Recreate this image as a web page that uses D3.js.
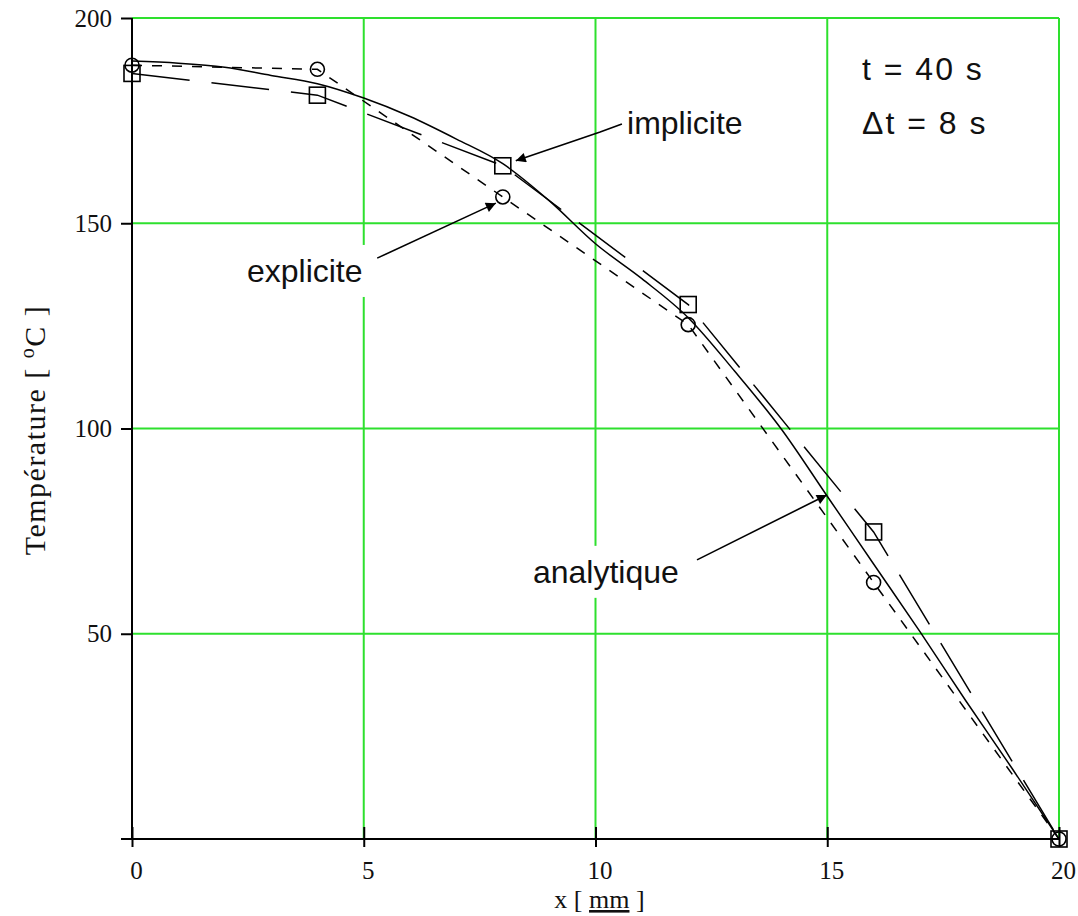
<!DOCTYPE html>
<html>
<head>
<meta charset="utf-8">
<script src="https://cdn.jsdelivr.net/npm/d3@7"></script>
<style>
  body { margin: 0; background: #fff; }
  svg { display: block; }
</style>
</head>
<body>
<div id="chart"></div>
<script>

// analytic solution (x in mm, T in degC)
const x_analytic = [0, 1, 2, 3, 4, 5, 6, 7, 8, 9, 10, 11, 12, 13, 14, 15, 16, 17, 18, 19, 20];
const t_analytic = [189.5, 189, 188, 186, 184, 180.5, 176, 170.5, 164.5, 155.5, 145, 136.5, 127, 114, 100, 83.5, 67, 50.5, 33.5, 17, 0];

// numerical nodes (dx = 4 mm)
const x_nodes = [0, 4, 8, 12, 16, 20];
const t_implicit = [186.5, 181.2, 164, 130.2, 74.8, 0];
const t_explicit = [188.5, 187.5, 156.4, 125.3, 62.5, 0];

const x_ticks = [0, 5, 10, 15, 20];
const y_ticks = [50, 100, 150, 200];

// annotations, in data units
const notes = [
  {text: "implicite",  at: [10.68, 171.7], arrow: [[10.57, 174.2], [10.1, 172.2], [8.28, 165.2]]},
  {text: "explicite",  at: [2.48, 135.7],  arrow: [[5.29, 141.5], [7.85, 154.9]]},
  {text: "analytique", at: [8.65, 62.4],   arrow: [[12.19, 68.0], [14.99, 83.8]]}
];
const info = ["t = 40 s", "\u0394t = 8 s"];

var width = 1078, height = 916;
var margin = {left: 132, top: 18, right: 19, bottom: 77};
var green = "#2ee02e";

var svg = d3.select("#chart").append("svg")
    .attr("width", width)
    .attr("height", height);

var x = d3.scaleLinear().domain([0, 20]).range([margin.left, width - margin.right]);
var y = d3.scaleLinear().domain([0, 200]).range([height - margin.bottom, margin.top]);

// green grid
svg.append("g").selectAll("line")
    .data(x_ticks.filter(d => d > 0))
    .enter().append("line")
    .attr("x1", d => x(d)).attr("x2", d => x(d))
    .attr("y1", y(0)).attr("y2", y(200))
    .attr("stroke", green).attr("stroke-width", 2);

svg.append("g").selectAll("line")
    .data(y_ticks)
    .enter().append("line")
    .attr("x1", x(0)).attr("x2", x(20))
    .attr("y1", d => y(d)).attr("y2", d => y(d))
    .attr("stroke", green).attr("stroke-width", 2);

// axes
var xAxis = svg.append("g")
    .attr("transform", "translate(0," + y(0) + ")")
    .call(d3.axisBottom(x).tickValues(x_ticks).tickSize(8).tickPadding(14));
xAxis.select(".domain").remove();
xAxis.selectAll(".tick line").attr("stroke", "#000").attr("stroke-width", 2)
    .attr("y1", -12);
xAxis.selectAll(".tick text")
    .attr("dx", 4)
    .style("font-family", "'Liberation Serif', 'Times New Roman', serif")
    .style("font-size", "25px")
    .attr("fill", "#111");

var yAxis = svg.append("g")
    .attr("transform", "translate(" + x(0) + ",0)")
    .call(d3.axisLeft(y).tickValues(y_ticks).tickSize(11).tickPadding(9));
yAxis.select(".domain").remove();
yAxis.selectAll(".tick line").attr("stroke", "#000").attr("stroke-width", 2);
yAxis.selectAll(".tick text")
    .style("font-family", "'Liberation Serif', 'Times New Roman', serif")
    .style("font-size", "25px")
    .attr("fill", "#111");

svg.append("line")
    .attr("x1", x(0) - 11).attr("x2", x(20))
    .attr("y1", y(0)).attr("y2", y(0))
    .attr("stroke", "#000").attr("stroke-width", 2);
svg.append("line")
    .attr("x1", x(0)).attr("x2", x(0))
    .attr("y1", y(200)).attr("y2", y(0))
    .attr("stroke", "#000").attr("stroke-width", 2);

// axis titles
var xTitle = svg.append("text")
    .attr("x", x(10) + 4).attr("y", 908)
    .attr("text-anchor", "middle")
    .style("font-family", "'Liberation Serif', 'Times New Roman', serif")
    .style("font-size", "26px")
    .attr("fill", "#111");
xTitle.append("tspan").text("x [ ");
xTitle.append("tspan").text("mm").style("text-decoration", "underline");
xTitle.append("tspan").text(" ]");

var yTitle = svg.append("text")
    .attr("transform", "translate(45,430) rotate(-90)")
    .attr("text-anchor", "middle")
    .style("font-family", "'Liberation Serif', 'Times New Roman', serif")
    .style("font-size", "30px")
    .style("letter-spacing", "1.5px")
    .attr("fill", "#111");
yTitle.append("tspan").text("Température [ ");
yTitle.append("tspan").text("o").style("font-size", "20px").attr("dy", -11);
yTitle.append("tspan").text("C ]").attr("dy", 11);

// curves
var line = d3.line()
    .x(d => x(d[0]))
    .y(d => y(d[1]));

svg.append("path")
    .datum(d3.zip(x_analytic, t_analytic))
    .attr("d", line.curve(d3.curveMonotoneX))
    .attr("fill", "none").attr("stroke", "#000").attr("stroke-width", 1.5);

var straight = d3.line().x(d => x(d[0])).y(d => y(d[1]));

svg.append("path")
    .datum(d3.zip(x_nodes, t_implicit))
    .attr("d", straight)
    .attr("fill", "none").attr("stroke", "#000").attr("stroke-width", 1.5)
    .attr("stroke-dasharray", "58,22");

svg.append("path")
    .datum(d3.zip(x_nodes, t_explicit))
    .attr("d", straight)
    .attr("fill", "none").attr("stroke", "#000").attr("stroke-width", 1.5)
    .attr("stroke-dasharray", "10,10");

// markers
svg.append("g").selectAll("rect")
    .data(d3.zip(x_nodes, t_implicit))
    .enter().append("rect")
    .attr("x", d => x(d[0]) - 8).attr("y", d => y(d[1]) - 8)
    .attr("width", 16).attr("height", 16)
    .attr("fill", "none").attr("stroke", "#000").attr("stroke-width", 1.6);

svg.append("g").selectAll("circle")
    .data(d3.zip(x_nodes, t_explicit))
    .enter().append("circle")
    .attr("cx", d => x(d[0])).attr("cy", d => y(d[1]))
    .attr("r", 7)
    .attr("fill", "none").attr("stroke", "#000").attr("stroke-width", 1.6);

// annotations
svg.append("defs").append("marker")
    .attr("id", "head")
    .attr("viewBox", "0 0 10 10")
    .attr("refX", 10).attr("refY", 5)
    .attr("markerWidth", 16).attr("markerHeight", 10)
    .attr("markerUnits", "userSpaceOnUse")
    .attr("orient", "auto")
    .append("path").attr("d", "M0,0 L10,5 L0,10 Z").attr("fill", "#000");

var labelFont = "'Liberation Sans', Arial, sans-serif";

notes.forEach(function(n) {
    var g = svg.append("g");
    var t = g.append("text")
        .attr("x", x(n.at[0])).attr("y", y(n.at[1]))
        .style("font-family", labelFont)
        .style("font-size", "32px")
        .attr("fill", "#111")
        .text(n.text);
    var b = t.node().getBBox();
    g.insert("rect", "text")
        .attr("x", b.x - 6).attr("y", b.y - 8)
        .attr("width", b.width + 12).attr("height", b.height + 16)
        .attr("fill", "#fff");
    svg.append("path")
        .datum(n.arrow)
        .attr("d", straight.curve(d3.curveLinear))
        .attr("fill", "none").attr("stroke", "#000").attr("stroke-width", 1.6)
        .attr("marker-end", "url(#head)");
});

svg.append("g").selectAll("text")
    .data(info)
    .enter().append("text")
    .attr("x", x(15.75))
    .attr("y", (d, i) => y(184.9) + i * 54)
    .style("font-family", labelFont)
    .style("font-size", "32px")
    .style("letter-spacing", "2px")
    .attr("fill", "#111")
    .text(d => d);

</script>
</body>
</html>
